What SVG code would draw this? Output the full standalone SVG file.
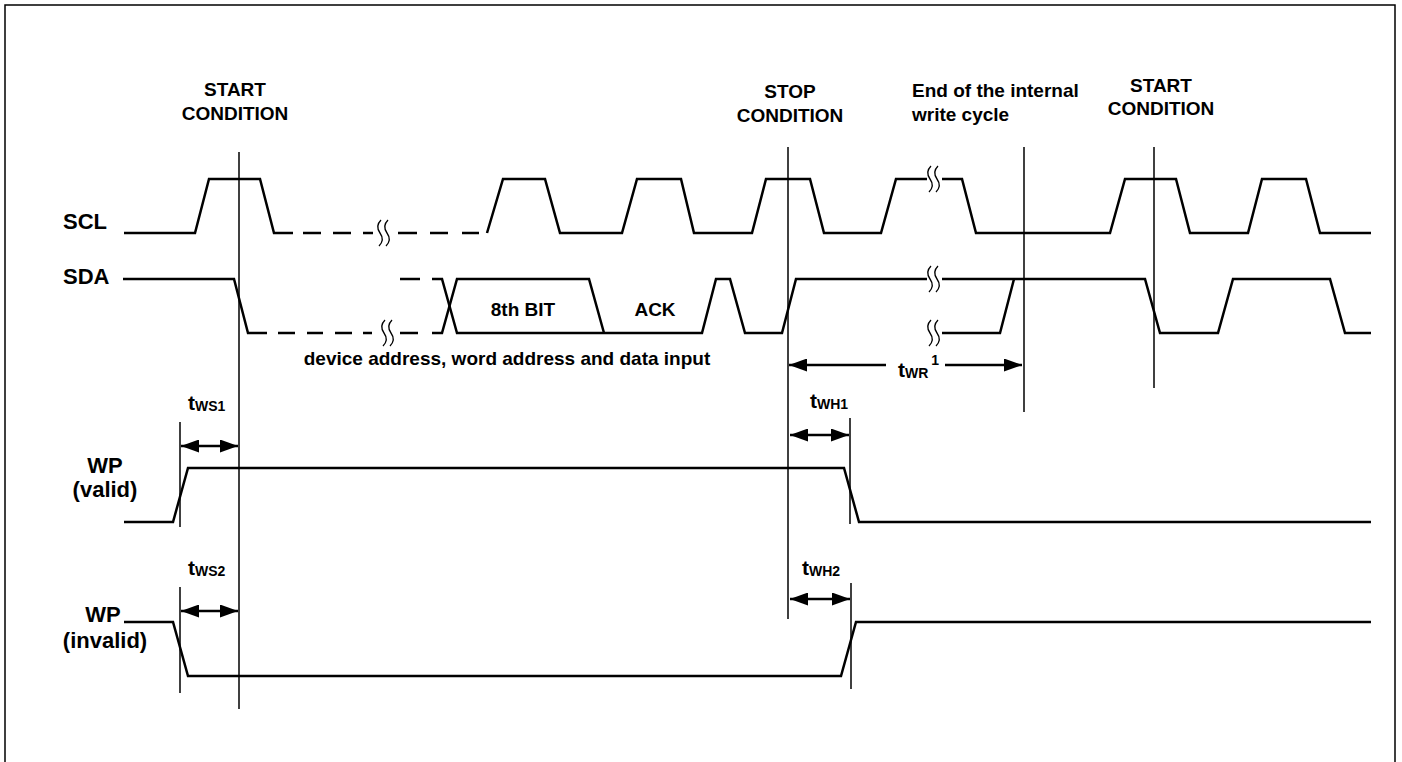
<svg xmlns="http://www.w3.org/2000/svg" xmlns:xlink="http://www.w3.org/1999/xlink" width="1402" height="762" viewBox="0 0 1402 762">
<style>
.bg{fill:#fff}
.frame{fill:none;stroke:#000;stroke-width:1.5}
.wave{fill:none;stroke:#000;stroke-width:2.5;stroke-linejoin:miter}
.mark{fill:none;stroke:#000;stroke-width:1.5}
.brk{fill:none;stroke:#000;stroke-width:1.3}
.arr{fill:none;stroke:#000;stroke-width:2.5;marker-end:url(#ah)}
.arr2{fill:none;stroke:#000;stroke-width:2.5;marker-start:url(#ah);marker-end:url(#ah)}
text{font-family:"Liberation Sans",Arial,sans-serif;font-weight:bold;fill:#000}
.t19{font-size:19px}
.t21{font-size:21px}
.t22{font-size:22px}
.sub{font-size:14px}
.mid{text-anchor:middle}
</style>
<defs>
<marker id="ah" markerUnits="userSpaceOnUse" markerWidth="18" markerHeight="13" refX="18" refY="6.5" orient="auto-start-reverse">
<path d="M0,0 L18,6.5 L0,13 Z" fill="#000"/>
</marker>
<g id="brk">
<path class="brk" d="M-2,-13 q-6,6 -1,13 q5,7 -1,13"/>
<path class="brk" d="M5,-13 q-6,6 -1,13 q5,7 -1,13"/>
</g>
</defs>
<rect class="bg" x="0" y="0" width="1402" height="762"/>
<path class="frame" d="M5,762 V5 H1395 V762"/>

<g id="labels">
<text class="t19 mid" x="235" y="96">START</text>
<text class="t19 mid" x="235" y="120">CONDITION</text>
<text class="t19 mid" x="790" y="98">STOP</text>
<text class="t19 mid" x="790" y="122">CONDITION</text>
<text class="t19" x="912" y="97">End of the internal</text>
<text class="t19" x="912" y="121">write cycle</text>
<text class="t19 mid" x="1161" y="92">START</text>
<text class="t19 mid" x="1161" y="115">CONDITION</text>
<text class="t22" x="63" y="229">SCL</text>
<text class="t22" x="63" y="284">SDA</text>
<text class="t22 mid" x="105" y="473">WP</text>
<text class="t22 mid" x="105" y="497">(valid)</text>
<text class="t22 mid" x="103" y="622">WP</text>
<text class="t22 mid" x="105" y="648">(invalid)</text>
<text class="t19 mid" x="523" y="316">8th BIT</text>
<text class="t19 mid" x="655" y="316">ACK</text>
<text class="t19 mid" x="507" y="365">device address, word address and data input</text>
<text class="t21" x="188" y="410">t<tspan class="sub" dy="1">WS1</tspan></text>
<text class="t21" x="188" y="575">t<tspan class="sub" dy="1">WS2</tspan></text>
<text class="t21" x="810" y="408">t<tspan class="sub" dy="1">WH1</tspan></text>
<text class="t21" x="802" y="575">t<tspan class="sub" dy="1">WH2</tspan></text>
<text class="t21" x="898" y="377">t<tspan class="sub" dy="1">WR</tspan><tspan class="sub" dx="3" dy="-13">1</tspan></text>
</g>

<g id="markers">
<line class="mark" x1="239" y1="152" x2="239" y2="709"/>
<line class="mark" x1="788" y1="147" x2="788" y2="619"/>
<line class="mark" x1="1024" y1="147" x2="1024" y2="412"/>
<line class="mark" x1="1154" y1="147" x2="1154" y2="388"/>
<line class="mark" x1="180" y1="422" x2="180" y2="527"/>
<line class="mark" x1="180" y1="587" x2="180" y2="693"/>
<line class="mark" x1="850" y1="418" x2="850" y2="524"/>
<line class="mark" x1="851" y1="583" x2="851" y2="689"/>
</g>

<g id="scl">
<path class="wave" d="M124,233 H195 L209,179 H260 L274,233 H293"/>
<path class="wave" d="M303,233 H321 M333,233 H351 M363,233 H373 M398,233 H417 M430,233 H448 M462,233 H479"/>
<use xlink:href="#brk" x="383" y="233"/>
<path class="wave" d="M487,233 L503,179 H545 L560,233 H622 L637,179 H681 L694,233 H752 L766,179 H810 L824,233 H881 L896,179 H927"/>
<use xlink:href="#brk" x="933" y="179"/>
<path class="wave" d="M942,179 H962 L976,233 H1110 L1125,179 H1176 L1190,233 H1248 L1262,179 H1306 L1320,233 H1371"/>
</g>

<g id="sda">
<path class="wave" d="M123,279 H234 L248,333 H267"/>
<path class="wave" d="M278,333 H295 M307,333 H323 M335,333 H352 M363,333 H372 M400,333 H418"/>
<use xlink:href="#brk" x="387" y="333"/>
<path class="wave" d="M400,279 H420"/>
<path class="wave" d="M432,279 H442 L457,333 H702 L716,279 H730 L745,333 H782 L796,279 H927"/>
<path class="wave" d="M432,333 H442 L457,279 H589 L604,333"/>
<use xlink:href="#brk" x="933" y="279"/>
<use xlink:href="#brk" x="933" y="333"/>
<path class="wave" d="M942,279 H1145 L1160,333 H1218 L1233,279 H1330 L1345,333 H1371"/>
<path class="wave" d="M942,333 H1000 L1014,279"/>
</g>

<g id="wp-valid">
<path class="wave" d="M124,522 H173 L188,468 H844 L859,522 H1371"/>
</g>
<g id="wp-invalid">
<path class="wave" d="M124,622 H173 L188,676 H841 L856,622 H1371"/>
</g>

<g id="connectors">
<line class="arr2" x1="181" y1="446" x2="238" y2="446"/>
<line class="arr2" x1="181" y1="611" x2="238" y2="611"/>
<line class="arr2" x1="790" y1="435" x2="849" y2="435"/>
<line class="arr2" x1="790" y1="599" x2="850" y2="599"/>
<line class="arr" x1="886" y1="365" x2="789" y2="365"/>
<line class="arr" x1="945" y1="365" x2="1022" y2="365"/>
</g>
</svg>
